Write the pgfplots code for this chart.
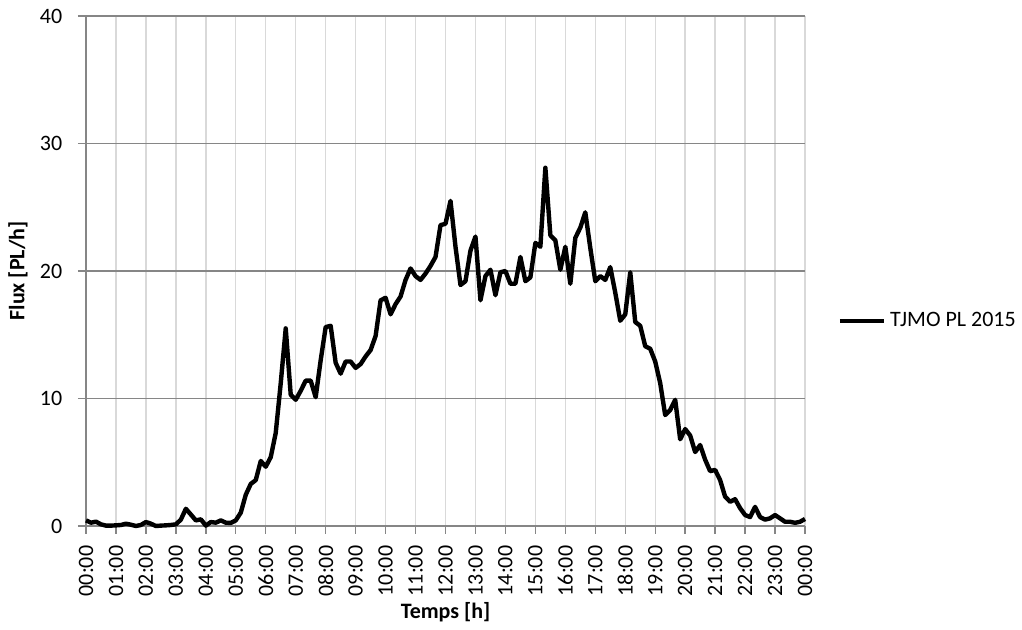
\documentclass[border=0pt]{standalone}
\usepackage{pgfplots}
\pgfplotsset{compat=1.18}
\usepackage{fontspec}
\setmainfont{Carlito}
\definecolor{gridgray}{HTML}{868686}
\definecolor{lightgrid}{HTML}{D9D9D9}

\begin{document}
\begin{tikzpicture}
\fontsize{11}{13}\selectfont
% reference frame: 1px = 0.5pt, plot area 719x510 px
\path (-43pt,-52pt) rectangle (468pt,263pt);
\begin{axis}[
  scale only axis,
  width=359.5pt, height=255pt,
  xmin=0, xmax=144, ymin=0, ymax=40,
  xtick={0,6,...,144},
  xticklabels={00:00,01:00,02:00,03:00,04:00,05:00,06:00,07:00,08:00,09:00,10:00,11:00,12:00,13:00,14:00,15:00,16:00,17:00,18:00,19:00,20:00,21:00,22:00,23:00,00:00},
  ytick={0,10,20,30,40},
  axis lines*=left,
  axis line style={draw=gridgray, line width=0.7pt, -},
  tick style={draw=gridgray, line width=0.7pt},
  tick align=outside,
  major tick length=4pt,
  xmajorgrids, ymajorgrids,
  major x grid style={draw=lightgrid, line width=0.7pt},
  major y grid style={draw=gridgray, line width=0.7pt},
  /pgf/number format/assume math mode=true,
  ticklabel style={font=\fontsize{11}{13}\selectfont},
  yticklabel style={xshift=-4pt},
  xticklabel style={rotate=90, anchor=east, xshift=-2pt},
  xlabel={\bfseries Temps [h]},
  ylabel={\bfseries Flux [PL/h]},
  xlabel style={at={(axis description cs:0.5,-0.169)}, anchor=center, font=\fontsize{11}{13}\selectfont},
  ylabel style={at={(axis description cs:-0.0946,0.5)}, anchor=center, font=\fontsize{11}{13}\selectfont},
  legend style={at={(axis description cs:1.045,0.402)}, anchor=west, draw=none, fill=none,
    inner sep=0pt, font=\fontsize{11}{13}\selectfont,
    legend cell align=left},
  legend image code/.code={\draw[line width=2.2pt] (0pt,0pt) -- (22pt,0pt);},
  clip=false,
]
\addplot[black, line width=2.2pt, line join=round] coordinates {
(0,0.44) (1,0.26) (2,0.34) (3,0.13) (4,0.03) (5,0.03) (6,0.05) (7,0.08) (8,0.18) (9,0.10)
(10,0.0) (11,0.08) (12,0.31) (13,0.18) (14,0.0) (15,0.03) (16,0.05) (17,0.08) (18,0.13) (19,0.5)
(20,1.35) (21,0.9) (22,0.44) (23,0.52) (24,0.03) (25,0.31) (26,0.26) (27,0.44) (28,0.26) (29,0.24)
(30,0.44) (31,1.05) (32,2.45) (33,3.3) (34,3.6) (35,5.1) (36,4.65) (37,5.4) (38,7.3) (39,11.2)
(40,15.5) (41,10.3) (42,9.9) (43,10.6) (44,11.4) (45,11.4) (46,10.1) (47,13.0) (48,15.6) (49,15.7)
(50,12.8) (51,11.95) (52,12.9) (53,12.9) (54,12.4) (55,12.7) (56,13.3) (57,13.8) (58,14.9) (59,17.7)
(60,17.9) (61,16.6) (62,17.4) (63,18.0) (64,19.3) (65,20.2) (66,19.6) (67,19.3) (68,19.8) (69,20.4)
(70,21.1) (71,23.6) (72,23.7) (73,25.5) (74,21.9) (75,18.9) (76,19.2) (77,21.6) (78,22.7) (79,17.7)
(80,19.6) (81,20.1) (82,18.1) (83,19.9) (84,20.0) (85,19.0) (86,19.0) (87,21.1) (88,19.2) (89,19.5)
(90,22.2) (91,21.9) (92,28.1) (93,22.8) (94,22.4) (95,20.1) (96,21.9) (97,19.0) (98,22.6) (99,23.4)
(100,24.6) (101,21.8) (102,19.2) (103,19.6) (104,19.3) (105,20.3) (106,18.3) (107,16.1) (108,16.6) (109,19.9)
(110,16.0) (111,15.7) (112,14.1) (113,13.9) (114,12.9) (115,11.2) (116,8.7) (117,9.1) (118,9.9) (119,6.8)
(120,7.6) (121,7.1) (122,5.8) (123,6.35) (124,5.2) (125,4.3) (126,4.4) (127,3.6) (128,2.3) (129,1.9)
(130,2.1) (131,1.4) (132,0.86) (133,0.7) (134,1.5) (135,0.7) (136,0.5) (137,0.6) (138,0.86) (139,0.6)
(140,0.33) (141,0.33) (142,0.25) (143,0.33) (144,0.55)
};
\addlegendentry{TJMO PL 2015}
\end{axis}
\end{tikzpicture}
\end{document}
